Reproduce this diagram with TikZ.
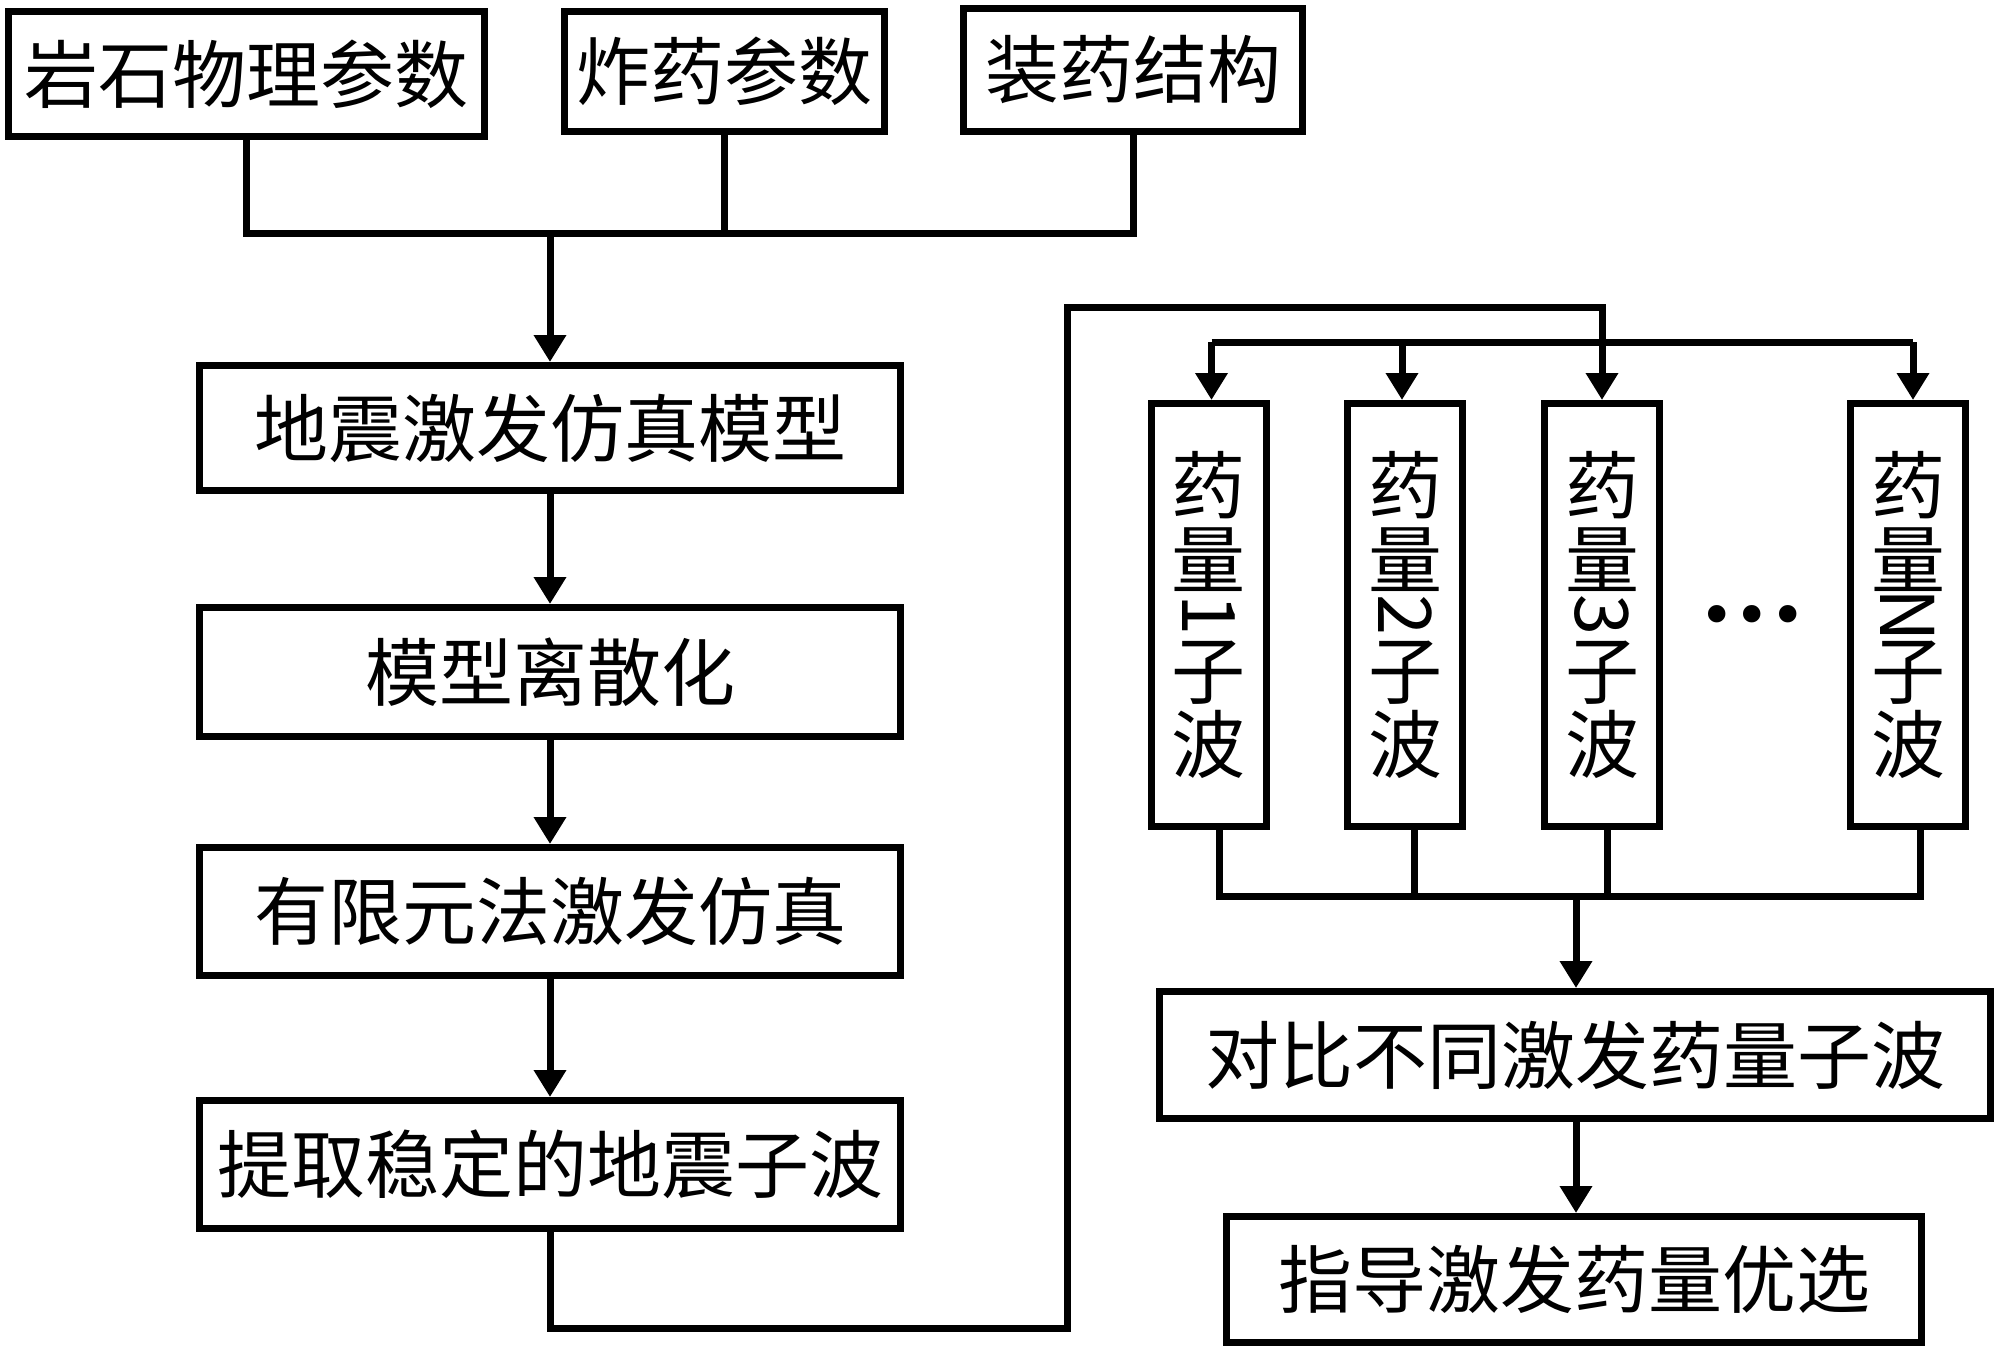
\documentclass[tikz,border=0pt]{standalone}
\usepackage{fontspec}
\newfontfamily\cjk{Noto Sans CJK SC}
\newfontfamily\dvs{DejaVu Sans}
\usetikzlibrary{arrows.meta}
\newcommand{\cjkcell}[1]{\hbox to 1em{\hss\vrule height 0.88em depth 0.12em width 0pt #1\hss}}
\newcommand{\vlab}{\vbox{\offinterlineskip\cjkcell{药}\cjkcell{量}\kern0.5em\cjkcell{子}\cjkcell{波}}}
\tikzset{
  box/.style={draw, line width=7pt, inner sep=0pt, font=\cjk\fontsize{74pt}{74pt}\selectfont},
  vbox/.style={draw, line width=7pt, inner sep=0pt, minimum width=115pt, minimum height=423pt,
    font=\cjk\fontsize{74pt}{74pt}\selectfont},
  digit/.style={rotate=-90, inner sep=0pt, outer sep=0pt, font=\cjk\fontsize{74pt}{74pt}\selectfont},
  link/.style={line width=7pt},
  arr/.style={line width=7pt, -{Triangle[width=31pt,length=27pt]}},
}
\begin{document}
\begin{tikzpicture}[x=1pt,y=-1pt]
\useasboundingbox (0,0) rectangle (2000,1358);
% top parameter boxes
\node[box, minimum width=476pt, minimum height=125pt] (b1) at (246.5,74) {岩石物理参数};
\node[box, minimum width=320pt, minimum height=120pt] (b2) at (724.5,71.5) {炸药参数};
\node[box, minimum width=339pt, minimum height=123pt] (b3) at (1133,70) {装药结构};
% main chain
\node[box, minimum width=701pt, minimum height=125pt] (m1) at (550,428) {地震激发仿真模型};
\node[box, minimum width=701pt, minimum height=129pt] (m2) at (550,672) {模型离散化};
\node[box, minimum width=701pt, minimum height=128pt] (m3) at (550,911.5) {有限元法激发仿真};
\node[box, minimum width=701pt, minimum height=128pt] (m4) at (550,1164.5) {提取稳定的地震子波};
% vertical wavelet boxes (sideways digits set separately in the gap)
\node[vbox] (v1) at (1208.5,615) {\vlab};
\node[vbox] (v2) at (1405,615) {\vlab};
\node[vbox] (v3) at (1602,615) {\vlab};
\node[vbox] (vN) at (1908,615) {\vlab};
\node[digit] (d1) at (v1.center) {1};
\node[digit] (d2) at (v2.center) {2};
\node[digit] (d3) at (v3.center) {3};
\node[digit] (dN) at (vN.center) {N};
\node[inner sep=0pt, font=\dvs\fontsize{60pt}{60pt}\selectfont] (dots) at (1752.5,621.5) {•••};
% result boxes
\node[box, minimum width=831pt, minimum height=127pt] (c1) at (1575,1055) {对比不同激发药量子波};
\node[box, minimum width=695pt, minimum height=126pt] (c2) at (1574,1279.5) {指导激发药量优选};
% connectors: top merge
\coordinate (hbar) at (550,233.5);
\draw[link] (b1.south) |- (hbar) -| (b3.south);
\draw[link] (b2.south) -- (b2.south |- hbar);
\draw[arr] (hbar) -- (m1.north);
\draw[arr] (m1.south) -- (m2.north);
\draw[arr] (m2.south) -- (m3.north);
\draw[arr] (m3.south) -- (m4.north);
% long return line
\coordinate (bend1) at (1067,1328.5);
\coordinate (bend2) at (1067,307);
\draw[arr] (m4.south) |- (bend1) -- (bend2) -| (v3.north);
% distribution line
\coordinate (dist) at (1500,342);
\draw[link] ([xshift=3pt]v1.north |- dist) -- ([xshift=5pt]vN.north |- dist);
\draw[arr] ([xshift=3pt]v1.north |- dist) -- ([xshift=3pt]v1.north);
\draw[arr] ([xshift=-3pt]v2.north |- dist) -- ([xshift=-3pt]v2.north);
\draw[arr] ([xshift=5pt]vN.north |- dist) -- ([xshift=5pt]vN.north);
% collection line
\coordinate (coll) at (1576,896);
\draw[link] ([xshift=11pt]v1.south) |- (coll) -| ([xshift=12pt]vN.south);
\draw[link] ([xshift=9pt]v2.south) -- ([xshift=9pt]v2.south |- coll);
\draw[link] ([xshift=5pt]v3.south) -- ([xshift=5pt]v3.south |- coll);
\draw[arr] (coll) -- (coll |- c1.north);
\draw[arr] (coll |- c1.south) -- (coll |- c2.north);
\end{tikzpicture}
\end{document}
